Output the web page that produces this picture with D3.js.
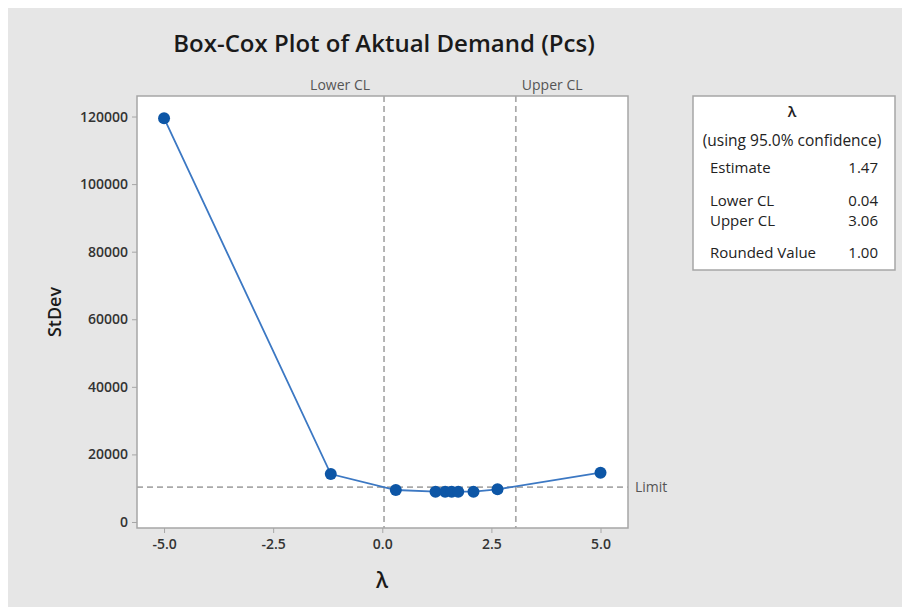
<!DOCTYPE html>
<html>
<head>
<meta charset="utf-8">
<script src="https://cdn.jsdelivr.net/npm/d3@7"></script>
<style>
  body { margin: 0; background: #fff; }
  text { font-family: "Open Sans", "Noto Sans", sans-serif; }
</style>
</head>
<body>
<svg id="main_div" width="902" height="607"></svg>
<script>
// Box-Cox values
var lambdas = [-5, -1.18, 0.31, 1.22, 1.44, 1.59, 1.74, 2.09, 2.64, 5];
var stdevs = [119500, 14200, 9470, 8970, 8960, 8960, 8970, 8980, 9680, 14600];
var limit = 10350;
var lower_cl = 0.04;
var upper_cl = 3.06;
var x_ticks = [-5, -2.5, 0, 2.5, 5];
var y_ticks = [0, 20000, 40000, 60000, 80000, 100000, 120000];
var table_labels = ['Estimate', 'Lower CL', 'Upper CL', 'Rounded Value'];
var table_values = ['1.47', '0.04', '3.06', '1.00'];

var svg = d3.select('#main_div');

svg.append('rect')
  .attr('x', 8).attr('y', 8)
  .attr('width', 894).attr('height', 599)
  .attr('fill', '#e6e6e6');

var p_left = 137, p_right = 628, p_top = 96, p_bottom = 528;

var x = d3.scaleLinear().domain([-5.62, 5.63]).range([p_left, p_right]);
var y = d3.scaleLinear().domain([-1776, 126072]).range([p_bottom, p_top]);

svg.append('rect')
  .attr('x', p_left).attr('y', p_top)
  .attr('width', p_right - p_left).attr('height', p_bottom - p_top)
  .attr('fill', '#fff')
  .attr('stroke', '#a6a6a6')
  .attr('stroke-width', 1.5);

// axes
var xAxis = svg.append('g')
  .attr('transform', 'translate(0,' + p_bottom + ')')
  .call(d3.axisBottom(x).tickValues(x_ticks).tickSize(5).tickPadding(6));
var yAxis = svg.append('g')
  .attr('transform', 'translate(' + p_left + ',0)')
  .call(d3.axisLeft(y).tickValues(y_ticks).tickFormat(d => d).tickSize(5).tickPadding(4));

[xAxis, yAxis].forEach(function(a) {
  a.select('.domain').remove();
  a.selectAll('line').attr('stroke', '#a6a6a6');
  a.selectAll('text')
    .attr('fill', '#333')
    .style('font-size', '14px')
    .style('font-weight', '600');
});
xAxis.selectAll('text').text(d => d.toFixed(1));

// confidence limits
[[lower_cl, 'Lower CL', 'end', -14], [upper_cl, 'Upper CL', 'start', 6]].forEach(function(c) {
  svg.append('line')
    .attr('x1', x(c[0])).attr('x2', x(c[0]))
    .attr('y1', p_top).attr('y2', p_bottom)
    .attr('stroke', '#a9a9a9')
    .attr('stroke-width', 1.7)
    .attr('stroke-dasharray', '6,4');
  svg.append('text')
    .attr('x', x(c[0]) + c[3]).attr('y', 90)
    .attr('text-anchor', c[2])
    .attr('fill', '#555')
    .style('font-size', '14px')
    .text(c[1]);
});

svg.append('line')
  .attr('x1', p_left).attr('x2', p_right)
  .attr('y1', y(limit)).attr('y2', y(limit))
  .attr('stroke', '#a9a9a9')
  .attr('stroke-width', 1.7)
  .attr('stroke-dasharray', '6,4');
svg.append('text')
  .attr('x', 635).attr('y', y(limit) + 5)
  .attr('fill', '#555')
  .style('font-size', '14px')
  .text('Limit');

// curve
var pts = lambdas.map((d, i) => [d, stdevs[i]]);
svg.append('path')
  .datum(pts)
  .attr('fill', 'none')
  .attr('stroke', '#3c78c3')
  .attr('stroke-width', 1.8)
  .attr('d', d3.line().x(d => x(d[0])).y(d => y(d[1])));
svg.selectAll('circle.pt')
  .data(pts)
  .join('circle')
  .attr('class', 'pt')
  .attr('cx', d => x(d[0]))
  .attr('cy', d => y(d[1]))
  .attr('r', 6)
  .attr('fill', '#0d56a6');

// titles
svg.append('text')
  .attr('x', 384).attr('y', 52)
  .attr('text-anchor', 'middle')
  .attr('fill', '#1a1a1a')
  .style('font-size', '24px')
  .style('font-weight', '600')
  .text('Box-Cox Plot of Aktual Demand (Pcs)');
svg.append('text')
  .attr('transform', 'translate(61,' + ((p_top + p_bottom) / 2) + ') rotate(-90)')
  .attr('text-anchor', 'middle')
  .attr('fill', '#1a1a1a')
  .style('font-size', '18px')
  .style('font-weight', '600')
  .text('StDev');
svg.append('text')
  .attr('x', 382).attr('y', 588)
  .attr('text-anchor', 'middle')
  .attr('fill', '#1a1a1a')
  .style('font-size', '21px')
  .style('font-weight', '600')
  .text('λ');

// summary table
var tb = svg.append('g');
tb.append('rect')
  .attr('x', 693).attr('y', 96)
  .attr('width', 202).attr('height', 174)
  .attr('fill', '#fff')
  .attr('stroke', '#a6a6a6')
  .attr('stroke-width', 1.5);
tb.append('text')
  .attr('x', 792).attr('y', 117)
  .attr('text-anchor', 'middle')
  .style('font-size', '15px')
  .style('font-weight', '600')
  .attr('fill', '#222')
  .text('λ');
tb.append('text')
  .attr('x', 792).attr('y', 146)
  .attr('text-anchor', 'middle')
  .style('font-size', '15.5px')
  .attr('fill', '#222')
  .text('(using 95.0% confidence)');
var row_y = [173, 206, 226, 258];
tb.selectAll('text.lab')
  .data(table_labels)
  .join('text')
  .attr('class', 'lab')
  .attr('x', 710)
  .attr('y', (d, i) => row_y[i])
  .style('font-size', '15px')
  .attr('fill', '#222')
  .text(d => d);
tb.selectAll('text.val')
  .data(table_values)
  .join('text')
  .attr('class', 'val')
  .attr('x', 878)
  .attr('y', (d, i) => row_y[i])
  .attr('text-anchor', 'end')
  .style('font-size', '15px')
  .attr('fill', '#222')
  .text(d => d);
</script>
</body>
</html>
